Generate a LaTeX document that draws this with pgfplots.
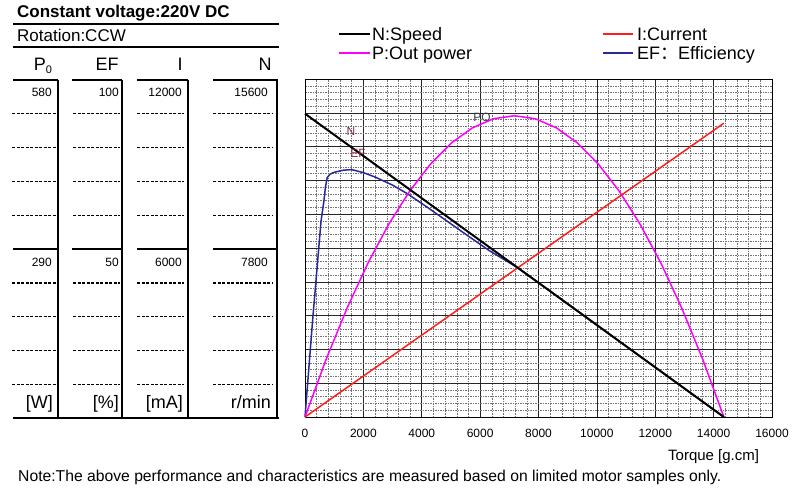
\documentclass[border=0pt]{standalone}
\usepackage{fontspec}
\setmainfont{Liberation Sans}
\newfontfamily\cjk{Noto Sans CJK SC}
\usepackage{pgfplots}
\usepackage{pgfplotstable}
\pgfplotsset{compat=1.18}
\definecolor{pmag}{RGB}{255,0,255}
\definecolor{ired}{RGB}{255,30,30}
\definecolor{efblue}{RGB}{40,40,150}
\definecolor{lblred}{RGB}{130,40,70}
\definecolor{lblgray}{RGB}{60,60,80}

% Speed N [r/min] vs torque [g.cm]
\pgfplotstableread{
x y
0 14000
14350 0
}\tabN
% Current I [mA]
\pgfplotstableread{
x y
0 0
14350 10430
}\tabI
% Output power P [W]
\pgfplotstableread{
x y
0 0
717.5 98.2
1435 186.1
2152.5 263.7
2870 330.9
3587.5 387.8
4305 434.3
5022.5 470.5
5740 496.3
6457.5 511.8
7175 517
7892.5 511.8
8610 496.3
9327.5 470.5
10045 434.3
10762.5 387.8
11480 330.9
12197.5 263.7
12915 186.1
13632.5 98.2
14350 0
}\tabP
% Efficiency EF [%]
\pgfplotstableread{
x y
0 0
260 28.5
550 58
650 64
700 68
760 70.8
850 71.8
1000 72.4
1300 73
1600 73.2
2000 72.3
2400 71
3000 68.6
3500 66.1
4200 62
5400 54.7
6300 49.3
7260 44.3
8500 36.6
10000 27.2
12000 14.7
14350 0
}\tabEF

\begin{document}
\begin{tikzpicture}
\begin{scope}[x=1pt,y=-1pt]
\path (0,0) rectangle (800,489);
% header
\node[anchor=base west,inner sep=0pt,font=\fontsize{17}{20}\selectfont\bfseries] at (17,18) {Constant voltage:220V DC};
\draw[line width=1.8pt] (13,24) -- (279,24);
\node[anchor=base west,inner sep=0pt,font=\fontsize{17}{20}\selectfont] at (17,41.5) {Rotation:CCW};
\draw[line width=1.8pt] (13,46.7) -- (279,46.7);
\node[anchor=base,inner sep=0pt,font=\fontsize{18}{20}\selectfont] at (43,70.5) {P\raisebox{-3pt}{\fontsize{11}{12}\selectfont 0}};
\node[anchor=base,inner sep=0pt,font=\fontsize{18}{20}\selectfont] at (107,70.5) {EF};
\node[anchor=base,inner sep=0pt,font=\fontsize{18}{20}\selectfont] at (180,70.5) {I};
\node[anchor=base,inner sep=0pt,font=\fontsize{18}{20}\selectfont] at (265,70.5) {N};
% table frame
\foreach \a/\b in {13/58,72/122,137/188,213/278}{
  \draw[line width=1.5pt] (\a,80) -- (\b,80);
  \draw[line width=1.5pt] (\a,249) -- (\b,249);
}
\foreach \xx in {58,122,188,277}{
  \draw[line width=2pt] (\xx,80) -- (\xx,418);
}
\draw[line width=2pt] (13,418) -- (279,418);
\foreach \yy in {113.8,147.6,181.4,215.2,282.8,316.6,350.4,384.2}{
  \foreach \a/\b in {12/56,73/120,137/184,213/273}{
    \draw[line width=1.4pt,dash pattern=on 3pt off 1.5pt] (\a,\yy) -- (\b,\yy);
  }
}
\begin{scope}[every node/.style={anchor=base east,inner sep=0pt,font=\fontsize{12}{14}\selectfont}]
\node at (52,97) {580};
\node at (119,97) {100};
\node at (182,97) {12000};
\node at (268,97) {15600};
\node at (52,266.5) {290};
\node at (119,266.5) {50};
\node at (182,266.5) {6000};
\node at (268,266.5) {7800};
\end{scope}
\begin{scope}[every node/.style={anchor=base east,inner sep=0pt,font=\fontsize{18}{20}\selectfont}]
\node at (53,408) {[W]};
\node at (119,408) {[\%]};
\node at (183,408) {[mA]};
\node at (271,408) {r/min};
\end{scope}
% legend texts
\node[anchor=base west,inner sep=0pt,font=\fontsize{18}{20}\selectfont] at (372,40.7) {N:Speed};
\node[anchor=base west,inner sep=0pt,font=\fontsize{18}{20}\selectfont] at (372,59.3) {P:Out power};
\node[anchor=base west,inner sep=0pt,font=\fontsize{18}{20}\selectfont] at (637,40.7) {I:Current};
\node[anchor=base west,inner sep=0pt,font=\fontsize{18}{20}\selectfont] at (637,59.3) {EF{\cjk ：}Efficiency};
% bottom texts
\node[anchor=base west,inner sep=0pt,font=\fontsize{15}{17}\selectfont] at (668,460) {Torque [g.cm]};
\node[anchor=base west,inner sep=0pt,font=\fontsize{15.7}{17}\selectfont] at (18,481) {Note:The above performance and characteristics are measured based on limited motor samples only.};
\end{scope}

\begin{axis}[
  at={(305pt,-417pt)}, anchor=south west,
  scale only axis, width=467pt, height=338pt,
  xmin=0, xmax=16000, ymin=0, ymax=100,
  xtick={0,2000,...,16000}, ytick={0,10,...,100},
  yticklabels={},
  scaled x ticks=false,
  minor x tick num=4, minor y tick num=4,
  grid=both,
  major grid style={black!85, line width=0.6pt},
  minor grid style={black!55, line width=0.45pt, dash pattern=on 1.5pt off 1pt},
  major tick length=0pt, minor tick length=0pt,
  axis line style={black, line width=0.8pt},
  xticklabel style={font=\fontsize{12}{14}\selectfont, yshift=-9pt},
  /pgf/number format/1000 sep={},
  /pgf/number format/assume math mode=true,
  clip=false,
]
\addplot[efblue, line width=1.5pt] table[x=x, y expr=\thisrow{y}] {\tabEF};
\addplot[pmag, line width=1.5pt] table[x=x, y expr=\thisrow{y}/5.8] {\tabP};
\addplot[ired, line width=1.5pt] table[x=x, y expr=\thisrow{y}/120] {\tabI};
\addplot[black, line width=2pt] table[x=x, y expr=\thisrow{y}/156] {\tabN};
\end{axis}

\begin{scope}[x=1pt,y=-1pt]
\node[lblred,font=\fontsize{12}{13}\selectfont,inner sep=0pt] at (351,131) {N};
\node[lblred,font=\fontsize{12}{13}\selectfont,inner sep=0pt] at (358,153) {EF};
\node[lblgray,font=\fontsize{12}{13}\selectfont,inner sep=0pt] at (482,117) {PO};
% legend lines
\draw[black,line width=1.8pt] (339,34) -- (370,34);
\draw[pmag,line width=1.8pt] (339,53) -- (370,53);
\draw[ired,line width=1.8pt] (603,34) -- (633,34);
\draw[efblue,line width=1.8pt] (603,53) -- (633,53);
\end{scope}
\end{tikzpicture}
\end{document}
